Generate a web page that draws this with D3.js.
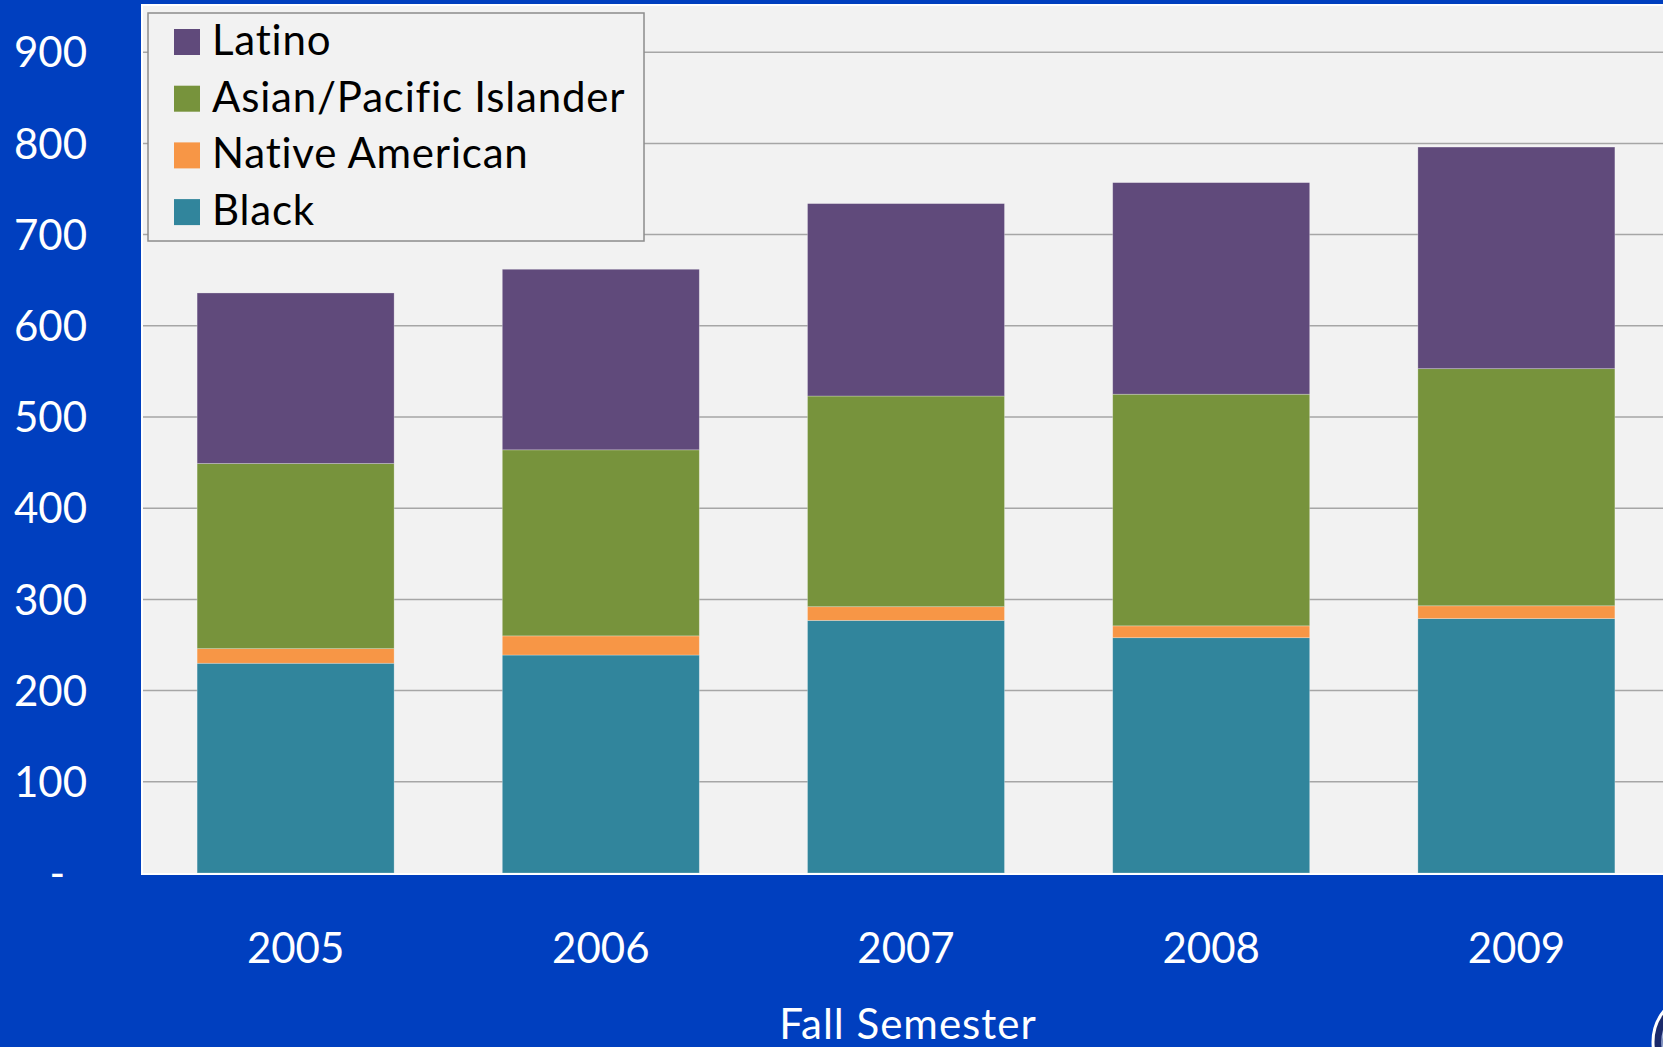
<!DOCTYPE html>
<html>
<head>
<meta charset="utf-8">
<script src="https://cdn.jsdelivr.net/npm/d3@7"></script>
<style>
  html, body { margin: 0; padding: 0; background: #003fbf; overflow: hidden; }
  svg { display: block; font-family: Lato, "Open Sans", sans-serif; }
</style>
</head>
<body>
<svg id="chart" width="1663" height="1047"></svg>
<script>
// Fall enrollment by group
var years = ["2005", "2006", "2007", "2008", "2009"];
var black = [230, 239, 277, 258, 279];
var nativeAm = [16, 21, 15, 13, 14];
var asian = [203, 204, 231, 254, 260];
var latino = [187, 198, 211, 232, 243];

var seriesNames = ["Black", "Native American", "Asian/Pacific Islander", "Latino"];
var seriesColors = ["#31859c", "#f79646", "#77933c", "#604a7b"];
var yTicks = [0, 100, 200, 300, 400, 500, 600, 700, 800, 900];

function init() {
  var svg = d3.select("#chart");

  var plotLeft = 142, plotTop = 5, plotBottom = 873;

  var x = d3.scaleBand().domain(years).range([143, 1669])
    .paddingInner(0.3545).paddingOuter(0.1773);
  var y = d3.scaleLinear().domain([0, 1000]).range([plotBottom, plotBottom - 912]);

  // plot area
  svg.append("rect")
    .attr("x", plotLeft).attr("y", plotTop)
    .attr("width", 1663 - plotLeft + 10).attr("height", plotBottom - plotTop + 1)
    .attr("fill", "#f2f2f2")
    .attr("stroke", "#ffffff").attr("stroke-width", 2);

  // gridlines
  svg.append("g")
    .selectAll("line")
    .data(yTicks.filter(function (d) { return d > 0; }))
    .enter().append("line")
    .attr("x1", plotLeft + 1).attr("x2", 1663)
    .attr("y1", function (d) { return y(d); })
    .attr("y2", function (d) { return y(d); })
    .attr("stroke", "#a6a6a6").attr("stroke-width", 1.5);

  // stacked data
  var table = years.map(function (yr, i) {
    return { year: yr, Black: black[i], "Native American": nativeAm[i],
      "Asian/Pacific Islander": asian[i], Latino: latino[i] };
  });
  var stacked = d3.stack().keys(seriesNames)(table);

  svg.append("g")
    .selectAll("g")
    .data(stacked)
    .enter().append("g")
    .attr("fill", function (d, i) { return seriesColors[i]; })
    .selectAll("rect")
    .data(function (d) { return d; })
    .enter().append("rect")
    .attr("x", function (d) { return x(d.data.year); })
    .attr("y", function (d) { return y(d[1]); })
    .attr("width", x.bandwidth())
    .attr("height", function (d) { return y(d[0]) - y(d[1]); })
    .attr("stroke", "rgba(255,255,255,0.35)")
    .attr("stroke-width", 0.75);

  // y axis
  var yAxis = d3.axisLeft(y).tickValues(yTicks).tickSize(0).tickPadding(0)
    .tickFormat(function (d) { return d === 0 ? "-" : d; });
  var gy = svg.append("g")
    .attr("transform", "translate(87,0)")
    .call(yAxis)
    .attr("font-family", "Lato, 'Open Sans', sans-serif")
    .attr("font-size", 42);
  gy.select(".domain").remove();
  gy.selectAll("text")
    .attr("fill", "#ffffff")
    .attr("dy", "0.35em")
    .attr("dx", function (d) { return d === 0 ? -22 : 0; });

  // x axis
  var xAxis = d3.axisBottom(x).tickSize(0).tickPadding(0);
  var gx = svg.append("g")
    .attr("transform", "translate(0,963)")
    .call(xAxis)
    .attr("font-family", "Lato, 'Open Sans', sans-serif")
    .attr("font-size", 42);
  gx.select(".domain").remove();
  gx.selectAll("text")
    .attr("fill", "#ffffff")
    .attr("dy", 0)
    .attr("y", 0);

  svg.append("text")
    .attr("x", 908).attr("y", 1039)
    .attr("text-anchor", "middle")
    .attr("fill", "#ffffff")
    .attr("font-size", "42px")
    .attr("letter-spacing", "1px")
    .text("Fall Semester");

  // legend
  var legend = svg.append("g");
  legend.append("rect")
    .attr("x", 148).attr("y", 13)
    .attr("width", 496).attr("height", 228)
    .attr("fill", "#f2f2f2")
    .attr("stroke", "#8c8c8c").attr("stroke-width", 1.5);

  var legendOrder = [3, 2, 1, 0];
  var rows = legend.selectAll("g.row")
    .data(legendOrder)
    .enter().append("g")
    .attr("class", "row")
    .attr("transform", function (d, i) { return "translate(174," + (29 + i * 56.7) + ")"; });
  rows.append("rect")
    .attr("width", 26).attr("height", 26)
    .attr("fill", function (d) { return seriesColors[d]; });
  rows.append("text")
    .attr("x", 38).attr("y", 26)
    .attr("fill", "#000000")
    .attr("font-size", "42px")
    .attr("letter-spacing", "0.8px")
    .text(function (d) { return seriesNames[d]; });

  // corner seal (cut off by the frame)
  svg.append("circle")
    .attr("cx", 1702).attr("cy", 1042).attr("r", 49)
    .attr("fill", "#1b2a6b")
    .attr("stroke", "#ffffff").attr("stroke-width", 3);
  svg.append("circle")
    .attr("cx", 1702).attr("cy", 1042).attr("r", 40)
    .attr("fill", "none")
    .attr("stroke", "#9fb0d8").attr("stroke-width", 1.5);
}

window.addEventListener("DOMContentLoaded", init);
</script>
</body>
</html>
